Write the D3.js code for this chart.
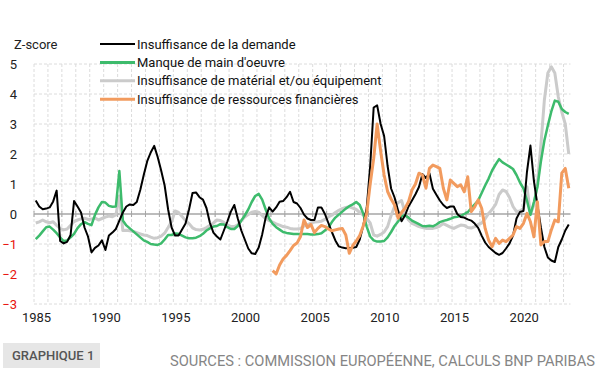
<!DOCTYPE html>
<html>
<head>
<meta charset="utf-8">
<script src="https://cdn.jsdelivr.net/npm/d3@7"></script>
<style>
  body { margin: 0; background: #fff; }
  svg { display: block; font-family: Roboto, "Noto Sans", sans-serif; }
</style>
</head>
<body>
<div id="chart"></div>
<script>
// Quarterly z-scores, 1985Q1 -> 2023Q2 (one row per year)
const demande = [
  0.45, 0.25, 0.16, 0.18,
  0.22, 0.42, 0.78, -0.9,
  -0.98, -0.93, -0.7, 0.43,
  0.25, 0.05, -0.45, -0.75,
  -1.28, -1.13, -1.05, -0.88,
  -1.2, -0.72, -0.62, -0.5,
  -0.22, 0.05, 0.25, 0.32,
  0.3, 0.4, 0.8, 1.3,
  1.76, 2.05, 2.27, 1.9,
  1.45, 0.95, 0.15, -0.45,
  -0.72, -0.72, -0.52, -0.32,
  0.15, 0.7, 0.72, 0.56,
  0.48, 0.2, -0.3, -0.62,
  -0.75, -0.85, -0.55, -0.25,
  0.08, 0.3, -0.15, -0.55,
  -0.85, -1.15, -1.31, -1.33,
  -1.12, -0.68, -0.12, 0.22,
  0.08, 0.22, 0.41, 0.43,
  0.56, 0.74, 0.4, 0.35,
  0.2, -0.02, -0.15, -0.2,
  -0.2, 0.22, 0.22, 0.0,
  -0.3, -0.6, -0.88, -1.08,
  -1.12, -1.14, -1.13, -1.13,
  -1.1, -0.85, -0.4, 0.2,
  1.6, 3.55, 3.62, 3.0,
  2.6, 1.6, 0.85, 0.55,
  0.12, -0.24, -0.05, 0.25,
  0.45, 0.66, 0.9, 1.33,
  1.2, 1.36, 0.84, 0.64,
  0.45, 0.3, 0.2, 0.25,
  0.25, 0.0, -0.1, -0.12,
  -0.18, -0.22, -0.32, -0.46,
  -0.72, -0.95, -1.1, -1.2,
  -1.3, -1.36, -1.3, -1.15,
  -0.98, -0.72, -0.15, 0.07,
  0.1, 1.4, 2.28, 1.1,
  0.3, -0.45, -1.1, -1.45,
  -1.55, -1.6, -1.1, -0.85,
  -0.55, -0.35
];
const mainOeuvre = [
  -0.84, -0.72, -0.58, -0.44,
  -0.42, -0.52, -0.64, -0.78,
  -0.9, -0.88, -0.78, -0.66,
  -0.47, -0.34, -0.27, -0.33,
  -0.37, -0.03, 0.22, 0.4,
  0.38, 0.27, 0.24, 0.25,
  1.43, -0.22, -0.38, -0.48,
  -0.58, -0.68, -0.78, -0.88,
  -0.93, -1.0, -1.02, -1.03,
  -0.98, -0.85, -0.7, -0.7,
  -0.65, -0.66, -0.72, -0.78,
  -0.81, -0.81, -0.79, -0.74,
  -0.66, -0.55, -0.48, -0.42,
  -0.4, -0.34, -0.35, -0.44,
  -0.5, -0.5, -0.4, -0.22,
  -0.05, 0.15, 0.4, 0.6,
  0.67, 0.48, 0.15, -0.15,
  -0.33, -0.44, -0.52, -0.6,
  -0.63, -0.65, -0.67, -0.67,
  -0.67, -0.67, -0.67, -0.68,
  -0.68, -0.67, -0.64, -0.55,
  -0.45, -0.27, -0.12, -0.02,
  0.08, 0.18, 0.26, 0.32,
  0.4, 0.3, 0.02, -0.42,
  -0.75, -0.88, -0.92, -0.92,
  -0.9, -0.78, -0.6, -0.4,
  -0.25, -0.08, -0.04, -0.12,
  -0.22, -0.28, -0.34, -0.4,
  -0.41, -0.39, -0.41, -0.35,
  -0.27, -0.23, -0.2, -0.16,
  -0.11, -0.09, -0.06, 0.0,
  0.06, 0.2, 0.32, 0.45,
  0.7, 0.95, 1.18, 1.45,
  1.65, 1.83, 1.72, 1.65,
  1.58, 1.5, 1.3, 1.05,
  0.85, 0.45, -0.03, 0.4,
  0.9, 1.75, 2.45, 2.95,
  3.42, 3.78, 3.74, 3.5,
  3.4, 3.34
];
const materiel = [
  -0.3, -0.26, -0.2, -0.26,
  -0.29, -0.26, -0.38, -0.48,
  -0.53, -0.5, -0.38, -0.25,
  -0.2, -0.16, -0.14, -0.18,
  -0.17, -0.13, -0.2, -0.15,
  -0.1, -0.07, -0.09, -0.03,
  0.6, -0.55, -0.54, -0.56,
  -0.58, -0.62, -0.66, -0.7,
  -0.72, -0.77, -0.81, -0.79,
  -0.74, -0.64, -0.45, -0.25,
  0.1, 0.05, -0.08, -0.22,
  -0.32, -0.46, -0.52, -0.53,
  -0.51, -0.45, -0.38, -0.3,
  -0.2, -0.22, -0.28, -0.36,
  -0.42, -0.42, -0.36, -0.22,
  -0.1, -0.02, 0.06, 0.08,
  0.06, -0.05, -0.15, -0.22,
  -0.27, -0.33, -0.37, -0.42,
  -0.44, -0.48, -0.5, -0.5,
  -0.48, -0.4, -0.36, -0.3,
  -0.27, -0.26, -0.24, -0.18,
  -0.1, -0.04, 0.05, 0.12,
  0.18, 0.22, 0.24, 0.2,
  0.15, 0.05, -0.03, -0.15,
  -0.3, -0.7, -0.74, -0.68,
  -0.6, -0.42, -0.05, 0.25,
  0.38, 0.45, 0.05, -0.2,
  -0.31, -0.36, -0.42, -0.45,
  -0.48, -0.48, -0.48, -0.45,
  -0.4, -0.32, -0.38, -0.44,
  -0.48, -0.42, -0.37, -0.38,
  -0.45, -0.47, -0.42, -0.35,
  -0.3, -0.16, 0.02, 0.15,
  0.32, 0.65, 0.8, 0.75,
  0.55, 0.25, 0.08, 0.1,
  0.18, 0.91, 0.0, 0.3,
  1.0, 2.3, 3.8, 4.7,
  4.91, 4.7, 3.9, 3.4,
  3.0, 2.0
];
// starts 2002Q1
const financieres = [
  -1.89, -2.0, -1.7, -1.5,
  -1.38, -1.22, -1.05, -0.97,
  -0.75, -0.2, -0.45, -0.35,
  -0.62, -0.48, -0.38, -0.42,
  -0.5, -0.56, -0.53, -0.5,
  -0.48, -0.7, -1.31, -1.05,
  -0.9, -0.72, -0.4, 0.02,
  1.0, 1.85, 3.0, 2.1,
  1.3, 0.75, 0.5, 0.3,
  -0.14, 0.05, 0.19, 0.41,
  0.8, 1.0, 1.36, 1.3,
  0.86, 1.52, 1.63, 1.58,
  1.52, 0.86, 0.47, 1.13,
  1.02, 0.91, 0.97, 0.74,
  1.24, 0.08, 0.24, 0.47,
  0.19, -0.48, -0.87, -1.09,
  -0.81, -0.98, -0.87, -0.92,
  -0.81, -0.7, -0.42, -0.48,
  -0.31, 0.02, -0.26, -0.76,
  0.41, -1.03, -0.92, -0.92,
  -0.53, -0.2, -0.26, 1.36,
  1.52, 0.86
];
const seriesNames = [
  'Insuffisance de la demande',
  "Manque de main d'oeuvre",
  'Insuffisance de matérial et/ou équipement',
  'Insuffisance de ressources financières'
];
const yTicks = [5, 4, 3, 2, 1, 0, -1, -2, -3];
const xLabels = [1985, 1990, 1995, 2000, 2005, 2010, 2015, 2020];

const width = 609, height = 385;
const svg = d3.select('#chart').append('svg')
  .attr('width', width).attr('height', height);

const x = d3.scaleLinear().domain([1985, 2023.5]).range([34, 570.5]);
const y = d3.scaleLinear().domain([-3, 5]).range([304, 64]);

const toPoints = (vals, startYear) =>
  vals.map((v, i) => ({ t: startYear + i / 4 + 0.125, v }));

// grid
const years = d3.range(1985, 2024);
svg.append('g').selectAll('line').data(years).join('line')
  .attr('x1', d => x(d)).attr('x2', d => x(d))
  .attr('y1', y(5)).attr('y2', y(-3))
  .attr('stroke', '#dcdcdc').attr('stroke-dasharray', '3,2');
svg.append('g').selectAll('line').data(yTicks.filter(d => d !== 0)).join('line')
  .attr('x1', x(1985)).attr('x2', x(2023.5))
  .attr('y1', d => y(d)).attr('y2', d => y(d))
  .attr('stroke', '#dcdcdc').attr('stroke-dasharray', '3,2');

// zero line + small ticks
svg.append('line')
  .attr('x1', x(1985)).attr('x2', x(2023.5))
  .attr('y1', y(0)).attr('y2', y(0))
  .attr('stroke', '#a6a6a6').attr('stroke-width', 1.5);
svg.append('g').selectAll('line').data(years).join('line')
  .attr('x1', d => x(d)).attr('x2', d => x(d))
  .attr('y1', y(0) - 3).attr('y2', y(0) + 3)
  .attr('stroke', '#a6a6a6');

// axes (labels only)
const yAxis = svg.append('g')
  .attr('transform', `translate(${x(1985) - 14},0)`)
  .call(d3.axisLeft(y).tickValues(yTicks).tickSize(0).tickFormat(d3.format('d')));
yAxis.select('.domain').remove();
yAxis.selectAll('text')
  .attr('font-size', 13).attr('font-family', 'Roboto, sans-serif')
  .attr('fill', d => d < 0 ? '#e8120c' : '#222');

const xAxis = svg.append('g')
  .attr('transform', `translate(2,${y(-3) + 6})`)
  .call(d3.axisBottom(x).tickValues(xLabels).tickSize(0).tickFormat(d3.format('d')));
xAxis.select('.domain').remove();
xAxis.selectAll('text')
  .attr('font-size', 13).attr('font-family', 'Roboto, sans-serif').attr('fill', '#222');

// lines
const line = d3.line().x(d => x(d.t)).y(d => y(d.v));
const series = [
  { name: seriesNames[2], pts: toPoints(materiel, 1985), color: '#cbcbcb', w: 3 },
  { name: seriesNames[1], pts: toPoints(mainOeuvre, 1985), color: '#3dbb6c', w: 2.5 },
  { name: seriesNames[0], pts: toPoints(demande, 1985), color: '#000000', w: 2 },
  { name: seriesNames[3], pts: toPoints(financieres, 2002), color: '#f29b5e', w: 3 }
];
svg.append('g').selectAll('path').data(series).join('path')
  .attr('d', d => line(d.pts))
  .attr('fill', 'none')
  .attr('stroke', d => d.color)
  .attr('stroke-width', d => d.w)
  .attr('stroke-linejoin', 'round');

// legend
const legend = [
  { name: seriesNames[0], color: '#000000', w: 2 },
  { name: seriesNames[1], color: '#3dbb6c', w: 3 },
  { name: seriesNames[2], color: '#cbcbcb', w: 3 },
  { name: seriesNames[3], color: '#f29b5e', w: 3 }
];
const lg = svg.append('g').selectAll('g').data(legend).join('g')
  .attr('transform', (d, i) => `translate(100,${44 + i * 18.4})`);
lg.append('line').attr('x1', 0).attr('x2', 35)
  .attr('stroke', d => d.color).attr('stroke-width', d => d.w);
lg.append('text').attr('x', 37).attr('dy', '0.35em')
  .attr('font-size', 13).attr('fill', '#111').text(d => d.name);

svg.append('text').attr('x', 14).attr('y', 44).attr('dy', '0.35em')
  .attr('font-size', 13).attr('fill', '#222').text('Z-score');

// footer
svg.append('rect').attr('x', 3).attr('y', 343).attr('width', 97).attr('height', 25)
  .attr('fill', '#e6e6e6');
svg.append('text').attr('x', 12).attr('y', 360)
  .attr('font-size', 13).attr('font-weight', 500).attr('fill', '#555')
  .text('GRAPHIQUE 1');
svg.append('text').attr('x', 595).attr('y', 366).attr('text-anchor', 'end')
  .attr('font-size', 15).attr('fill', '#858585')
  .attr('textLength', 425).attr('lengthAdjust', 'spacingAndGlyphs')
  .text('SOURCES : COMMISSION EUROPÉENNE, CALCULS BNP PARIBAS');
</script>
</body>
</html>
